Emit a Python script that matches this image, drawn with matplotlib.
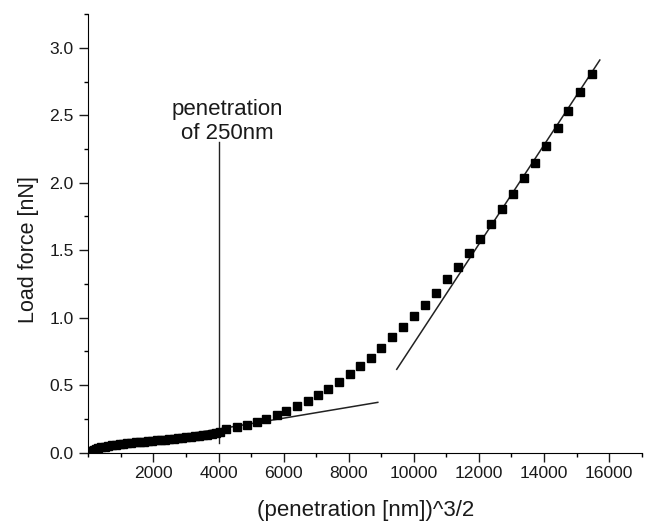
import matplotlib.pyplot as plt
from matplotlib.ticker import MultipleLocator

plt.rcParams['font.family'] = ['Liberation Sans', 'DejaVu Sans']

# measured points: x = (penetration [nm])^3/2, y = load force [nN]
pen_32 = [10, 50, 100, 160, 230, 310, 400, 500, 610, 720, 840, 960, 1080, 1200,
          1320, 1450, 1580, 1710, 1840, 1970, 2100, 2230, 2360, 2490, 2620, 2750,
          2880, 3010, 3140, 3270, 3400, 3530, 3660, 3790, 3920, 4050,
          4244, 4569, 4876, 5182, 5471, 5796, 6084, 6409, 6737, 7044, 7372, 7697,
          8025, 8353, 8678, 9006, 9334, 9660, 9997, 10346, 10684, 11021, 11346,
          11684, 12033, 12370, 12717, 13054, 13391, 13728, 14075, 14425, 14750,
          15109, 15468]
load = [0.003, 0.009, 0.015, 0.021, 0.027, 0.033, 0.039, 0.045, 0.050, 0.055,
        0.059, 0.063, 0.067, 0.070, 0.073, 0.076, 0.079, 0.082, 0.085, 0.088,
        0.091, 0.094, 0.097, 0.100, 0.103, 0.106, 0.109, 0.113, 0.117, 0.121,
        0.125, 0.129, 0.134, 0.139, 0.145, 0.152,
        0.173, 0.188, 0.205, 0.230, 0.250, 0.279, 0.309, 0.346, 0.383, 0.427,
        0.472, 0.526, 0.583, 0.642, 0.704, 0.776, 0.855, 0.931, 1.013, 1.094,
        1.185, 1.284, 1.373, 1.477, 1.581, 1.694, 1.803, 1.914, 2.037, 2.148,
        2.274, 2.403, 2.533, 2.670, 2.805]

# linear fits (end points)
fit_low_x = [2000, 8893]
fit_low_y = [0.094, 0.373]
fit_high_x = [9475, 15713]
fit_high_y = [0.618, 2.909]

marker_x = 4000
marker_y = [0.07, 2.30]

fig = plt.figure(figsize=(6.45, 5.25), dpi=100)
ax = fig.add_axes([0.1369, 0.1377, 0.8580, 0.8356])

ax.plot(fit_low_x, fit_low_y, color='#222222', lw=1.1, zorder=2)
ax.plot(fit_high_x, fit_high_y, color='#222222', lw=1.1, zorder=2)
ax.plot([marker_x, marker_x], marker_y, color='#222222', lw=1.0, zorder=2)
ax.plot(pen_32, load, 's', color='black', ms=6.2, zorder=3)

ax.text(4280, 2.285, 'penetration\nof 250nm', ha='center', va='bottom',
        fontsize=16, color='#1a1a1a')

ax.set_xlim(0, 17000)
ax.set_ylim(0, 3.25)
ax.spines['top'].set_visible(False)
ax.spines['right'].set_visible(False)
ax.xaxis.set_major_locator(MultipleLocator(2000))
ax.xaxis.set_minor_locator(MultipleLocator(1000))
ax.yaxis.set_major_locator(MultipleLocator(0.5))
ax.yaxis.set_minor_locator(MultipleLocator(0.25))
ax.set_xticks(range(2000, 17000, 2000))
ax.yaxis.set_major_formatter(plt.FormatStrFormatter('%.1f'))
ax.tick_params(which='major', length=6.5, width=1, labelsize=12.6, colors='#1a1a1a')
ax.tick_params(which='minor', length=3, width=1)
ax.tick_params(axis='y', pad=4)
ax.tick_params(axis='x', pad=3.3)

ax.set_xlabel('(penetration [nm])^3/2', fontsize=16, color='#1a1a1a')
ax.set_ylabel('Load force [nN]', fontsize=15.5, color='#1a1a1a')
ax.xaxis.label.set_va('center')
ax.yaxis.label.set_va('center')
ax.xaxis.set_label_coords(0.501, -0.1306)
ax.yaxis.set_label_coords(-0.108, 0.462)

fig.savefig('out.png', dpi=100)
